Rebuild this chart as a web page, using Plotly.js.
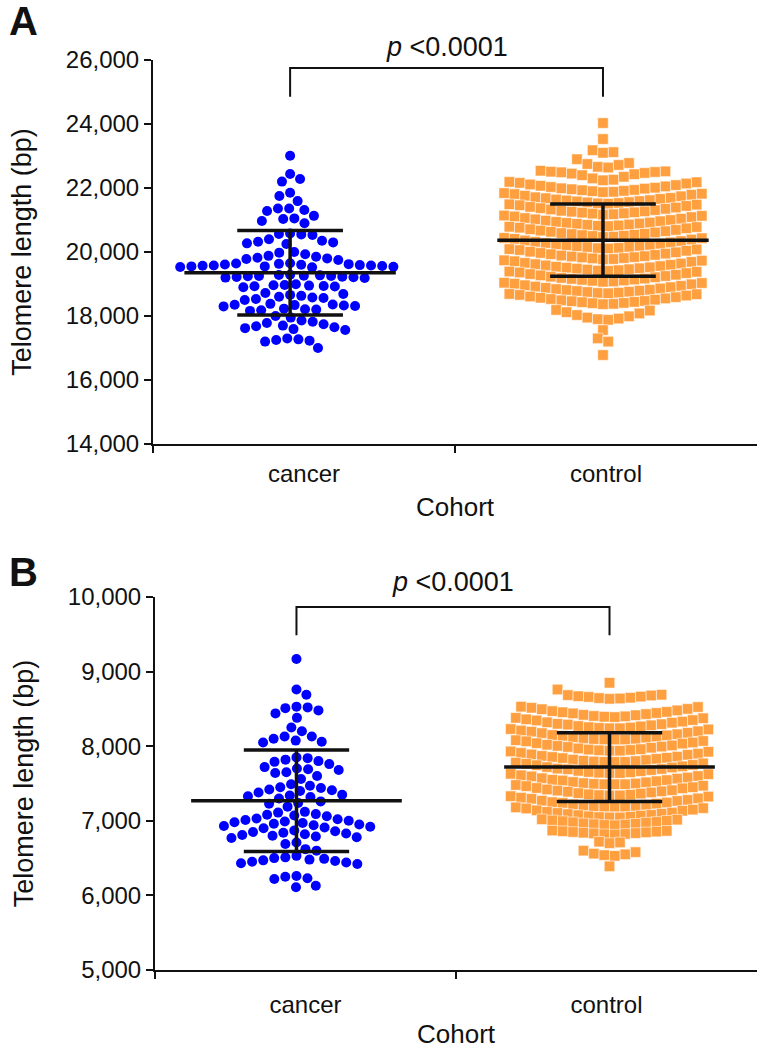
<!DOCTYPE html>
<html><head><meta charset="utf-8">
<script src="https://cdn.plot.ly/plotly-3.0.1.min.js"></script>
<style>html,body{margin:0;padding:0;background:#fff}#chart{width:762px;height:1049px}</style>
</head><body><div id="chart"></div>
<script>
// ---------------- DATA ----------------
const cohorts = ['cancer', 'control'];
const yTicksA = [14000, 16000, 18000, 20000, 22000, 24000, 26000];
const yTicksB = [5000, 6000, 7000, 8000, 9000, 10000];
const pValueText = '<0.0001';

// Panel A – telomere length (bp)
const cancerA = [
  23010,
  22440, 22280, 22200,
  21850, 21750, 21590,
  21360, 21360, 21310, 21280, 21130,
  21050, 21030, 20970, 20900,
  20580, 20560, 20550, 20530,
  20400, 20350, 20320, 20300, 20270, 20250,
  20000, 19980, 19930, 19880, 19850, 19820, 19800, 19780, 19750,
  19650, 19640, 19630, 19620, 19610, 19600, 19590, 19580, 19580, 19570, 19560, 19550, 19550, 19540, 19530, 19520,
  19290, 19280, 19270, 19260, 19250, 19250, 19240, 19230, 19220, 19210, 19200, 19190,
  18990, 18970, 18960, 18950, 18940, 18930, 18920, 18900,
  18720, 18690, 18660, 18630, 18600, 18580, 18560, 18530, 18500,
  18380, 18360, 18350, 18340, 18330, 18310, 18300,
  18230, 18210, 18200, 18180, 18160,
  18000, 17950,
  17860, 17820, 17780, 17740, 17700, 17680, 17650, 17620, 17590, 17560,
  17300, 17270, 17250, 17230, 17200,
  17000
];
const controlA = [
  24030,
  23530,
  23180, 23120, 23100,
  22900, 22780, 22750, 22720, 22660, 22640,
  22540, 22520, 22510, 22500, 22490, 22470, 22450, 22430, 22400, 22350, 22300, 22260, 22240,
  22190, 22180, 22160, 22140, 22110, 22090, 22070, 22050, 22030, 22010, 21990, 21980, 21960, 21940, 21930, 21910, 21900, 21880, 21870,
  21840, 21820, 21810, 21790, 21760, 21740, 21710, 21690, 21680, 21660, 21640, 21620, 21610, 21590, 21580, 21560, 21550, 21530, 21520, 21510,
  21490, 21480, 21460, 21440, 21410, 21390, 21370, 21350, 21330, 21310, 21290, 21270, 21260, 21240, 21230, 21210, 21200, 21180, 21170,
  21140, 21130, 21110, 21090, 21060, 21040, 21020, 21000, 20980, 20960, 20940, 20920, 20910, 20890, 20880, 20860, 20850, 20830, 20820, 20810,
  20790, 20780, 20760, 20740, 20710, 20690, 20670, 20650, 20630, 20610, 20590, 20570, 20560, 20540, 20530, 20510, 20500, 20480, 20470,
  20440, 20430, 20410, 20390, 20360, 20340, 20320, 20300, 20280, 20260, 20240, 20220, 20210, 20190, 20180, 20160, 20150, 20130, 20120, 20110,
  20090, 20080, 20060, 20040, 20010, 19990, 19970, 19950, 19930, 19910, 19890, 19870, 19860, 19840, 19830, 19810, 19800, 19780, 19770,
  19740, 19730, 19710, 19690, 19660, 19640, 19620, 19600, 19580, 19560, 19540, 19520, 19510, 19490, 19480, 19460, 19450, 19430, 19420, 19410,
  19390, 19380, 19360, 19340, 19310, 19290, 19270, 19250, 19230, 19210, 19190, 19170, 19160, 19140, 19130, 19110, 19100, 19080, 19070,
  19040, 19030, 19010, 18990, 18960, 18940, 18920, 18900, 18880, 18860, 18840, 18820, 18810, 18790, 18780, 18760, 18750, 18730, 18720, 18710,
  18690, 18680, 18660, 18640, 18610, 18590, 18570, 18550, 18530, 18510, 18490, 18470, 18460, 18440, 18430, 18410, 18400, 18380, 18370,
  18190, 18170, 18120, 18080, 18030, 17990, 17950, 17920, 17900, 17880,
  17560,
  17300, 17200,
  16780
];
const meanA = [19350, 20370];
const sdA = [1320, 1130];

// Panel B – telomere length (bp)
const cancerB = [
  9170,
  8760, 8690,
  8530, 8520, 8510, 8480,
  8440, 8380,
  8250, 8200, 8130, 8130, 8100, 8075, 8060, 8050,
  7850, 7840, 7820, 7800, 7790, 7760,
  7720, 7700, 7690, 7680, 7650, 7640,
  7600, 7560,
  7490, 7470, 7450, 7440, 7420, 7410, 7400, 7380,
  7350, 7340, 7330, 7320, 7300,
  7260, 7240, 7230,
  7190, 7120, 7110, 7090, 7080, 7070, 7060,
  7030, 7020, 7010, 7000, 6990, 6980, 6970, 6960, 6950, 6940, 6930, 6920, 6910, 6900,
  6870, 6860, 6850, 6840, 6830, 6820, 6810, 6800, 6790, 6780, 6770,
  6710, 6690,
  6620, 6600,
  6530, 6510, 6500, 6490, 6480, 6470, 6460, 6450, 6440, 6430, 6420,
  6260, 6250, 6230, 6220,
  6130, 6110
];
const controlB = [
  8850,
  8760,
  8690, 8685, 8680, 8670, 8665, 8660, 8650, 8645, 8640, 8635,
  8530, 8525, 8515, 8500, 8495, 8480, 8470, 8460, 8455, 8445, 8440, 8430, 8420, 8415, 8405, 8400, 8395, 8390,
  8380, 8375, 8360, 8350, 8345, 8330, 8320, 8315, 8300, 8295, 8290, 8280, 8270, 8265, 8255, 8250, 8245, 8240, 8240,
  8230, 8225, 8210, 8200, 8195, 8180, 8175, 8160, 8150, 8145, 8140, 8130, 8120, 8115, 8105, 8100, 8095, 8090, 8090, 8090,
  8080, 8070, 8065, 8050, 8040, 8035, 8020, 8010, 8005, 7995, 7990, 7980, 7970, 7960, 7955, 7950, 7945, 7940, 7940,
  7930, 7925, 7910, 7900, 7890, 7885, 7870, 7860, 7855, 7845, 7840, 7830, 7820, 7815, 7805, 7800, 7795, 7790, 7790, 7790,
  7780, 7770, 7765, 7750, 7745, 7730, 7720, 7715, 7700, 7695, 7690, 7680, 7670, 7665, 7655, 7650, 7645, 7640, 7640,
  7630, 7625, 7610, 7600, 7595, 7580, 7570, 7565, 7550, 7545, 7540, 7530, 7520, 7515, 7505, 7500, 7495, 7490, 7490, 7490,
  7480, 7470, 7465, 7450, 7440, 7435, 7420, 7410, 7405, 7395, 7390, 7380, 7370, 7365, 7355, 7350, 7345, 7340, 7340,
  7330, 7325, 7310, 7300, 7295, 7280, 7270, 7265, 7250, 7245, 7240, 7230, 7220, 7215, 7205, 7200, 7195, 7190, 7190, 7190,
  7180, 7170, 7165, 7150, 7140, 7135, 7120, 7110, 7105, 7095, 7090, 7080, 7075, 7070, 7060, 7055, 7050, 7045, 7045,
  7020, 7015, 7005, 7000, 6995, 6985, 6980, 6975, 6965, 6960, 6955, 6950, 6945, 6940,
  6870, 6865, 6860, 6855, 6850, 6845, 6840, 6835, 6830, 6825, 6820, 6815,
  6720, 6710, 6700,
  6600, 6580, 6560, 6550, 6540, 6530,
  6390
];
const meanB = [7270, 7720];
const sdB = [680, 460];

// ---------------- LAYOUT GEOMETRY (pixels) ----------------
const W = 762, H = 1049;
const FONT = 'Liberation Sans, Arial, Helvetica, sans-serif';
const panelA = {left: 153, right: 757, top: 60, bottom: 444, yr: [14000, 26000], cx: [0.454, 1.49], lblPad: 7, titlePad: 12};
const panelB = {left: 155, right: 757, top: 597, bottom: 970, yr: [5000, 10000], cx: [0.47, 1.51], lblPad: 12, titlePad: 18};
[panelA, panelB].forEach(p => {
  p.pxX = (p.right - p.left) / 2;
  p.pxY = (p.bottom - p.top) / (p.yr[1] - p.yr[0]);
});

// collision-avoiding beeswarm (returns pixel offsets)
function beeswarm(vals, pxY, d) {
  const order = vals.map((v, i) => i).sort((a, b) => vals[b] - vals[a]);
  const placed = [], off = new Array(vals.length);
  let flip = 1;
  for (const i of order) {
    const y = vals[i] * pxY;
    const iv = [];
    for (const p of placed) {
      const dy = Math.abs(p.y - y);
      if (dy < d) { const dx = Math.sqrt(d * d - dy * dy); iv.push([p.x - dx, p.x + dx]); }
    }
    const cands = [0];
    iv.forEach(([a, b]) => cands.push(a, b));
    cands.sort((a, b) => (Math.abs(a) - Math.abs(b)) || (flip * (b - a)));
    let best = 0;
    for (const c of cands) {
      if (iv.every(([a, b]) => c <= a + 1e-6 || c >= b - 1e-6)) { best = c; break; }
    }
    flip = -flip;
    placed.push({x: best, y});
    off[i] = best;
  }
  return off;
}

// Prism-like row layout (points binned into rows, lowest value in the middle)
function rowSwarm(vals, binH, gapBreak, spacing) {
  const order = vals.map((v, i) => i).sort((a, b) => vals[b] - vals[a]);
  const rows = [];
  let cur = null;
  for (const i of order) {
    const v = vals[i];
    if (!cur || v < cur.start - binH || cur.last - v > gapBreak) {
      cur = {start: v, last: v, idx: [i]};
      rows.push(cur);
    } else { cur.idx.push(i); cur.last = v; }
  }
  const off = new Array(vals.length);
  rows.forEach(r => {
    const n = r.idx.length;
    const pos = [];
    for (let j = 0; j < n; j++) pos.push((j - (n - 1) / 2) * spacing);
    pos.sort((a, b) => (Math.abs(a) - Math.abs(b)) || (b - a));
    const ids = r.idx.slice().sort((a, b) => vals[a] - vals[b]);
    ids.forEach((id, k) => { off[id] = pos[k]; });
  });
  return off;
}

const BLUE = '#0000FF', ORANGE = '#FFA040', INK = '#111111';
const traces = [];

function addPanel(p, xa, ya, cancer, control, mean, sd, ctrlBin, ctrlGap, bracketY, bracketDrop) {
  const offC = beeswarm(cancer, p.pxY, 11.2);
  traces.push({
    type: 'scatter', mode: 'markers', xaxis: xa, yaxis: ya, name: cohorts[0],
    x: offC.map(o => p.cx[0] + o / p.pxX), y: cancer,
    marker: {symbol: 'circle', size: 10, color: BLUE}, cliponaxis: false, hoverinfo: 'y'
  });
  const offK = rowSwarm(control, ctrlBin, ctrlGap, 10.4);
  traces.push({
    type: 'scatter', mode: 'markers', xaxis: xa, yaxis: ya, name: cohorts[1],
    x: offK.map(o => p.cx[1] + o / p.pxX), y: control,
    marker: {symbol: 'square', size: 10.5, color: ORANGE, line: {color: 'rgba(255,255,255,0.9)', width: 0.6}},
    cliponaxis: false, hoverinfo: 'y'
  });
  // mean ± SD
  const lx = [], ly = [];
  const halfM = 0.35, halfS = 0.175;
  for (let k = 0; k < 2; k++) {
    const c = p.cx[k], m = mean[k], s = sd[k];
    lx.push(c - halfM, c + halfM, null, c - halfS, c + halfS, null, c - halfS, c + halfS, null, c, c, null);
    ly.push(m, m, null, m + s, m + s, null, m - s, m - s, null, m - s, m + s, null);
  }
  traces.push({type: 'scatter', mode: 'lines', xaxis: xa, yaxis: ya, x: lx, y: ly,
    line: {color: INK, width: 3.5}, hoverinfo: 'skip', cliponaxis: false});
  // significance bracket
  traces.push({type: 'scatter', mode: 'lines', xaxis: xa, yaxis: ya,
    x: [p.cx[0], p.cx[0], p.cx[1], p.cx[1]],
    y: [bracketY - bracketDrop, bracketY, bracketY, bracketY - bracketDrop],
    line: {color: INK, width: 2}, hoverinfo: 'skip', cliponaxis: false});
}

addPanel(panelA, 'x', 'y', cancerA, controlA, meanA, sdA, 340, 180, 25750, 900);
addPanel(panelB, 'x2', 'y2', cancerB, controlB, meanB, sdB, 145, 80, 9866, 380);

function xaxisFor(p, anchor) {
  return {
    domain: [p.left / W, p.right / W], range: [0, 2], anchor: anchor,
    showline: true, linecolor: INK, linewidth: 2, showgrid: false, zeroline: false,
    tickvals: [0.5, 1.5], ticktext: cohorts, ticks: '', ticklabelstandoff: p.lblPad,
    minor: {tickmode: 'array', tickvals: [0, 1], ticks: 'outside', ticklen: 7, tickwidth: 2, tickcolor: INK, showgrid: false},
    tickfont: {family: FONT, size: 24, color: INK},
    title: {text: 'Cohort', font: {family: FONT, size: 26, color: INK}, standoff: p.titlePad},
    fixedrange: true
  };
}
function yaxisFor(p, ticks, anchor) {
  return {
    domain: [1 - p.bottom / H, 1 - p.top / H], range: p.yr, anchor: anchor,
    showline: true, linecolor: INK, linewidth: 2, showgrid: false, zeroline: false,
    tickvals: ticks, tickformat: ',d', ticks: 'outside', ticklen: 7, tickwidth: 2, tickcolor: INK,
    tickfont: {family: FONT, size: 24, color: INK},
    title: {text: 'Telomere length (bp)', font: {family: FONT, size: 27, color: INK}, standoff: 26},
    fixedrange: true
  };
}

const layout = {
  width: W, height: H, margin: {l: 0, r: 0, t: 0, b: 0},
  paper_bgcolor: '#fff', plot_bgcolor: 'rgba(0,0,0,0)', showlegend: false,
  font: {family: FONT, color: INK},
  xaxis: xaxisFor(panelA, 'y'), yaxis: yaxisFor(panelA, yTicksA, 'x'),
  xaxis2: xaxisFor(panelB, 'y2'), yaxis2: yaxisFor(panelB, yTicksB, 'x2'),
  annotations: [
    {text: '<b>A</b>', xref: 'paper', yref: 'paper', x: 23 / W, y: 1 - 21 / H, showarrow: false,
     font: {family: FONT, size: 40, color: INK}, xanchor: 'center', yanchor: 'middle'},
    {text: '<b>B</b>', xref: 'paper', yref: 'paper', x: 23 / W, y: 1 - 572 / H, showarrow: false,
     font: {family: FONT, size: 40, color: INK}, xanchor: 'center', yanchor: 'middle'},
    {text: '<i>p</i> ' + pValueText, xref: 'x', yref: 'paper', x: (panelA.cx[0] + panelA.cx[1]) / 2, y: 1 - 47 / H,
     showarrow: false, font: {family: FONT, size: 27, color: INK}, xanchor: 'center', yanchor: 'middle'},
    {text: '<i>p</i> ' + pValueText, xref: 'x2', yref: 'paper', x: (panelB.cx[0] + panelB.cx[1]) / 2, y: 1 - 582 / H,
     showarrow: false, font: {family: FONT, size: 27, color: INK}, xanchor: 'center', yanchor: 'middle'}
  ]
};

Plotly.newPlot('chart', traces, layout, {displayModeBar: false, staticPlot: true});
</script>
</body></html>
